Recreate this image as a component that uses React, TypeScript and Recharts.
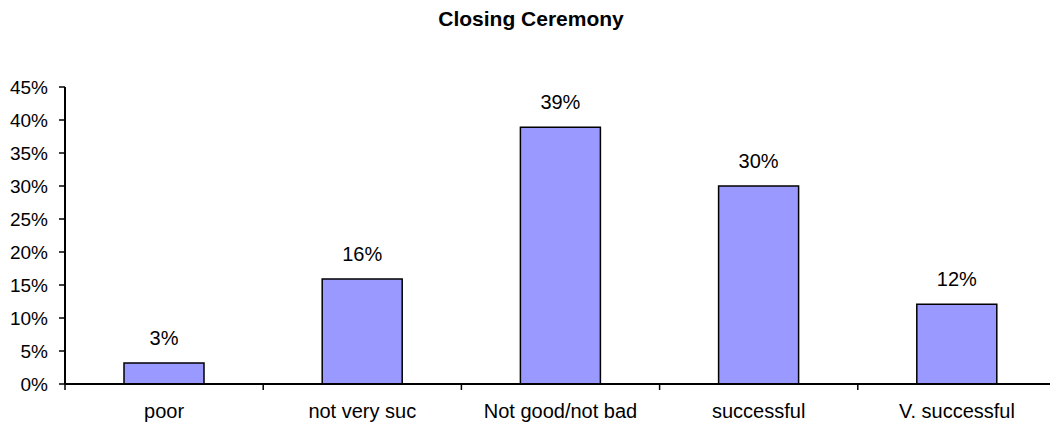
import { BarChart, Bar, XAxis, YAxis, LabelList } from 'recharts'

const categories = ['poor', 'not very suc', 'Not good/not bad', 'successful', 'V. successful']
const shares = [3.2, 15.9, 38.9, 30.0, 12.1]
const yTicks = [0, 5, 10, 15, 20, 25, 30, 35, 40, 45]

const chartData = categories.map((name, i) => ({ name, value: shares[i] }))

const FONT = '"Liberation Sans", Arial, sans-serif'
const CHART_W = 1060
const PLOT_LEFT = 65
const PLOT_RIGHT = 4
const BAND = (CHART_W - PLOT_LEFT - PLOT_RIGHT) / categories.length

function CategoryTick(props: any) {
  const { x, y, payload } = props
  const left = x - BAND / 2
  return (
    <g>
      <line x1={left} y1={y} x2={left} y2={y + 6} stroke="#000" strokeWidth={1.5} />
      <text x={x} y={y + 34} textAnchor="middle" fontSize={20} fontFamily={FONT} fill="#000">
        {payload.value}
      </text>
    </g>
  )
}

export default function App() {
  return (
    <div style={{ position: 'fixed', left: 0, top: 0, width: 1050, height: 425, overflow: 'hidden', background: '#fff' }}>
      <div
        style={{
          position: 'absolute',
          left: 0,
          top: 8,
          width: 1062,
          textAlign: 'center',
          fontFamily: FONT,
          fontWeight: 'bold',
          fontSize: 21,
          lineHeight: '21px',
          color: '#000',
        }}
      >
        Closing Ceremony
      </div>
      <BarChart
        width={CHART_W}
        height={425}
        data={chartData}
        margin={{ top: 87, right: PLOT_RIGHT, bottom: 0, left: 0 }}
      >
        <XAxis
          dataKey="name"
          height={41}
          tickSize={0}
          tickMargin={0}
          tickLine={false}
          axisLine={{ stroke: '#000', strokeWidth: 2 }}
          tick={<CategoryTick />}
          interval={0}
        />
        <YAxis
          width={PLOT_LEFT}
          domain={[0, 45]}
          ticks={yTicks}
          interval={0}
          tickFormatter={(v: number) => `${v}%`}
          tickSize={6}
          tickMargin={11}
          axisLine={{ stroke: '#000', strokeWidth: 2 }}
          tickLine={{ stroke: '#000', strokeWidth: 1.5 }}
          tick={{ fill: '#000', fontSize: 19, fontFamily: FONT }}
        />
        <Bar dataKey="value" fill="#9999FF" stroke="#000" strokeWidth={1.5} barSize={80} isAnimationActive={false}>
          <LabelList
            dataKey="value"
            position="top"
            offset={18}
            formatter={(v: any) => `${Math.round(Number(v))}%`}
            style={{ fill: '#000', fontSize: 20, fontFamily: FONT }}
          />
        </Bar>
      </BarChart>
    </div>
  )
}
